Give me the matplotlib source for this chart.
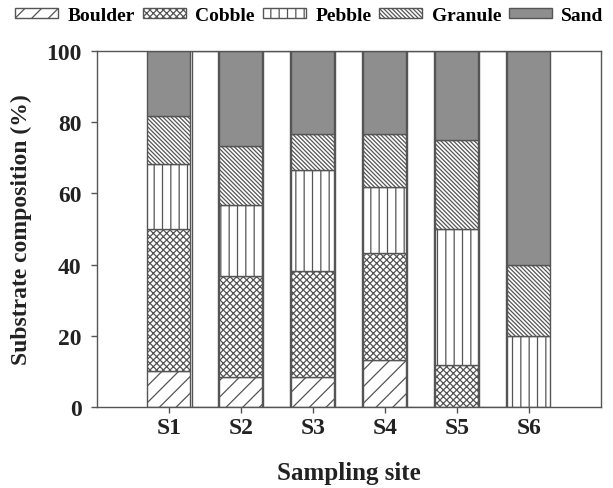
import numpy as np
import matplotlib
matplotlib.use("Agg")
import matplotlib.pyplot as plt

# composicion del sustrato por sitio (%)
sitios = ["S1", "S2", "S3", "S4", "S5", "S6"]
boulder = [10.0, 8.3, 8.3, 13.3, 0.0, 0.0]
cobble = [40.0, 28.4, 30.0, 30.0, 11.7, 0.0]
pebble = [18.3, 20.0, 28.4, 18.4, 38.3, 20.0]
granule = [13.4, 16.6, 10.0, 15.0, 25.0, 20.0]
sand = [18.3, 26.7, 23.3, 23.3, 25.0, 60.0]

nombres = ["Boulder", "Cobble", "Pebble", "Granule", "Sand"]
series = [boulder, cobble, pebble, granule, sand]
tramas = ["//", "xxxxx", "||", "\\\\\\\\\\\\\\\\", ""]
rellenos = ["white", "white", "white", "white", "#8e8e8e"]

plt.rcParams["font.family"] = ["Liberation Serif", "DejaVu Serif"]
plt.rcParams["font.weight"] = "bold"
plt.rcParams["hatch.color"] = "#444444"
plt.rcParams["hatch.linewidth"] = 0.9

borde = "#555555"
fig = plt.figure(figsize=(6.13, 4.89), dpi=100)
ax = fig.add_axes([0.158, 0.1656, 0.822, 0.728])

x = np.arange(1, len(sitios) + 1)
ancho = 0.6

# barras blancas entre los sitios
medios = (x[:-1] + x[1:]) / 2
ax.bar(medios, 100, width=0.37, color="white", edgecolor=borde, linewidth=1.0)

base = np.zeros(len(sitios))
handles = []
for nombre, vals, trama, color in zip(nombres, series, tramas, rellenos):
    vals = np.array(vals)
    b = ax.bar(x, vals, width=ancho, bottom=base, color=color, hatch=trama,
               edgecolor=borde, linewidth=1.0, label=nombre)
    handles.append(b)
    base = base + vals

ax.set_xlim(0, 7)
ax.set_ylim(0, 100)
ax.set_xticks(x)
ax.set_xticklabels(sitios)
ax.set_yticks(np.arange(0, 101, 20))
ax.tick_params(axis="both", direction="out", length=4, width=1, colors=borde,
               labelcolor="#222222", labelsize=17)
ax.tick_params(axis="y", pad=7)
for s in ax.spines.values():
    s.set_color(borde)
    s.set_linewidth(1.0)

ax.set_xlabel("Sampling site", fontsize=18, fontweight="bold", color="#222222", labelpad=16)
ax.set_ylabel("Substrate composition (%)", fontsize=17, fontweight="bold", color="#222222", labelpad=10)

fig.legend(handles=handles, labels=nombres, loc="center", bbox_to_anchor=(0.505, 0.966),
           ncol=5, frameon=False, fontsize=14, handlelength=2.2, handleheight=0.45,
           handletextpad=0.5, columnspacing=0.4, borderaxespad=0, borderpad=0)

fig.savefig("out.png", dpi=100)
